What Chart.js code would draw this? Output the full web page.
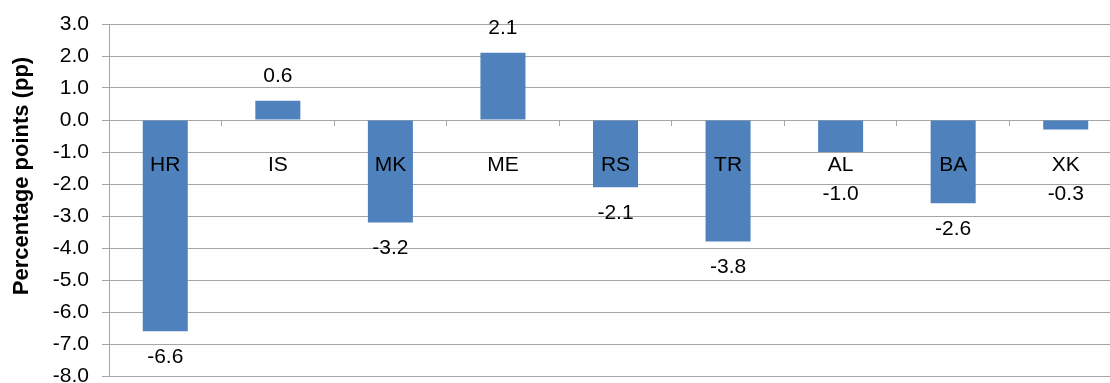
<!DOCTYPE html>
<html>
<head>
<meta charset="utf-8">
<script src="https://cdn.jsdelivr.net/npm/chart.js@4/dist/chart.umd.min.js"></script>
<style>
  html, body { margin: 0; padding: 0; background: #fff; overflow: hidden; }
  #wrap { position: absolute; left: 0; top: 0; width: 1122px; height: 383px; }
</style>
</head>
<body>
<div id="wrap"><canvas id="c" width="1122" height="383"></canvas></div>
<script>
// Change by economy, percentage points
const categories = ['HR', 'IS', 'MK', 'ME', 'RS', 'TR', 'AL', 'BA', 'XK'];
const values = [-6.6, 0.6, -3.2, 2.1, -2.1, -3.8, -1.0, -2.6, -0.3];
const yTicks = [3, 2, 1, 0, -1, -2, -3, -4, -5, -6, -7, -8];
const yTitle = 'Percentage points (pp)';

const FONT = '"Liberation Sans", Arial, Helvetica, sans-serif';
const GRID = '#a6a6a6';
const TEXT_SIZE = 21;

// Value labels beyond the end of each bar, plus the rotated axis title
const labelPlugin = {
  id: 'barLabels',
  afterDatasetsDraw(chart) {
    const { ctx } = chart;
    const meta = chart.getDatasetMeta(0);
    const y = chart.scales.y;
    const zero = y.getPixelForValue(0);
    ctx.save();
    ctx.font = TEXT_SIZE + 'px ' + FONT;
    ctx.fillStyle = '#000';
    ctx.textAlign = 'center';
    ctx.textBaseline = 'middle';
    meta.data.forEach((bar, i) => {
      const v = values[i];
      const end = y.getPixelForValue(v);
      let ly;
      if (v >= 0) {
        ly = end - 25;
      } else {
        ly = Math.max(end + 26, zero + 74);
      }
      ctx.fillText(v.toFixed(1), bar.x, ly);
    });
    ctx.restore();
  },
  afterDraw(chart) {
    const { ctx } = chart;
    ctx.save();
    ctx.font = 'bold 22px ' + FONT;
    ctx.fillStyle = '#000';
    ctx.textAlign = 'center';
    ctx.textBaseline = 'middle';
    ctx.translate(22, 176);
    ctx.rotate(-Math.PI / 2);
    ctx.fillText(yTitle, 0, 0);
    ctx.restore();
  }
};

new Chart(document.getElementById('c'), {
  type: 'bar',
  data: {
    labels: categories,
    datasets: [{
      data: values,
      backgroundColor: '#4f81bd',
      borderWidth: 0,
      categoryPercentage: 1,
      barPercentage: 0.4
    }]
  },
  options: {
    responsive: false,
    animation: false,
    devicePixelRatio: 1,
    layout: { padding: { top: 24, bottom: 7, left: 0, right: 0 } },
    plugins: { legend: { display: false }, tooltip: { enabled: false } },
    scales: {
      x: {
        position: { y: 0 },
        offset: true,
        afterFit(scale) { scale.height = 0; scale.paddingLeft = 0; scale.paddingRight = 0; },
        grid: {
          display: true,
          offset: true,
          drawOnChartArea: false,
          drawTicks: true,
          tickLength: 6,
          color: GRID
        },
        border: { display: false },
        ticks: {
          z: 1,
          color: '#000',
          padding: 27,
          maxRotation: 0,
          autoSkip: false,
          font: { family: FONT, size: TEXT_SIZE }
        }
      },
      y: {
        min: -8,
        max: 3,
        afterBuildTicks(scale) {
          scale.ticks = yTicks.map(v => ({ value: v }));
        },
        afterFit(scale) {
          scale.width = 109;
          scale.paddingTop = 0;
          scale.paddingBottom = 0;
        },
        grid: {
          color: GRID,
          lineWidth: 1,
          drawTicks: true,
          tickLength: 7
        },
        border: { display: true, color: GRID },
        ticks: {
          color: '#000',
          padding: 13,
          font: { family: FONT, size: TEXT_SIZE },
          callback: v => Number(v).toFixed(1)
        }
      }
    }
  },
  plugins: [labelPlugin]
});
</script>
</body>
</html>
